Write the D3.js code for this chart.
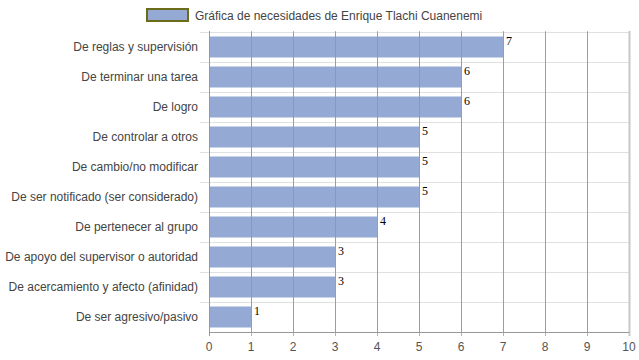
<!DOCTYPE html>
<html><head><meta charset="utf-8">
<script src="https://cdnjs.cloudflare.com/ajax/libs/d3/7.8.5/d3.min.js"></script>
<style>body{margin:0;background:#fff}svg{display:block}</style>
</head><body><svg id="c" width="639" height="360"></svg>
<script>
const categories = ["De reglas y supervisión","De terminar una tarea","De logro","De controlar a otros","De cambio/no modificar","De ser notificado (ser considerado)","De pertenecer al grupo","De apoyo del supervisor o autoridad","De acercamiento y afecto (afinidad)","De ser agresivo/pasivo"];
const values = [7,6,6,5,5,5,4,3,3,1];
const ticks = [0,1,2,3,4,5,6,7,8,9,10];
const seriesName = "Gráfica de necesidades de Enrique Tlachi Cuanenemi";

const svg = d3.select("#c");
const L=209, R=629, T=32, B=332;
const x = d3.scaleLinear().domain([0,10]).range([L,R]);
const y = d3.scaleBand().domain(categories).range([T,B]).paddingInner(0.3).paddingOuter(0.15);
const band = d3.scaleBand().domain(categories).range([T,B]);

svg.append("g").selectAll("line").data(categories).join("line")
  .attr("x1",L-9).attr("x2",R).attr("y1",d=>band(d)+0.5).attr("y2",d=>band(d)+0.5)
  .attr("stroke","#e0e0e0");
svg.append("g").selectAll("line").data(ticks.slice(1)).join("line")
  .attr("x1",d=>Math.round(x(d))+0.5).attr("x2",d=>Math.round(x(d))+0.5)
  .attr("y1",T-1).attr("y2",B+4)
  .attr("stroke",d=>d===10?"#c8c8c8":"#b4b4b4").attr("stroke-width",d=>d===10?2:1);

svg.append("g").selectAll("rect").data(categories).join("rect")
  .attr("x",x(0)).attr("y",d=>y(d)).attr("width",(d,i)=>x(values[i])-x(0)).attr("height",y.bandwidth())
  .attr("fill","#94a9d4");

svg.append("g").selectAll("line").data(ticks.slice(1,-1)).join("line")
  .attr("x1",d=>Math.round(x(d))+0.5).attr("x2",d=>Math.round(x(d))+0.5)
  .attr("y1",T).attr("y2",B)
  .attr("stroke","#7f8fae").attr("stroke-opacity",0.6);

svg.append("line").attr("x1",L+0.5).attr("x2",L+0.5).attr("y1",T-1).attr("y2",B+4).attr("stroke","#999");
svg.append("line").attr("x1",L).attr("x2",R).attr("y1",B+0.5).attr("y2",B+0.5).attr("stroke","#999");

svg.append("g").selectAll("text").data(categories).join("text")
  .attr("x",(d,i)=>x(values[i])+3).attr("y",d=>y(d)+8)
  .attr("font-family","'Liberation Serif','Times New Roman',serif").attr("font-size",12).attr("fill","#000")
  .text((d,i)=>values[i]);

svg.append("g").selectAll("text").data(categories).join("text")
  .attr("x",198).attr("y",d=>band(d)+band.bandwidth()/2).attr("dy","0.35em")
  .attr("text-anchor","end").attr("font-family","Arial,'Liberation Sans',sans-serif").attr("font-size",12).attr("fill","#444")
  .text(d=>d);

svg.append("g").selectAll("text").data(ticks).join("text")
  .attr("x",d=>x(d)).attr("y",351).attr("text-anchor","middle")
  .attr("font-family","Arial,'Liberation Sans',sans-serif").attr("font-size",12).attr("fill","#555")
  .text(d=>d);

svg.append("rect").attr("x",147).attr("y",9).attr("width",41).attr("height",12)
  .attr("fill","#94a9d4").attr("stroke","#6b6b1a").attr("stroke-width",2);
svg.append("text").attr("x",195).attr("y",19.5)
  .attr("font-family","Arial,'Liberation Sans',sans-serif").attr("font-size",12).attr("fill","#444")
  .text(seriesName);
</script></body></html>
